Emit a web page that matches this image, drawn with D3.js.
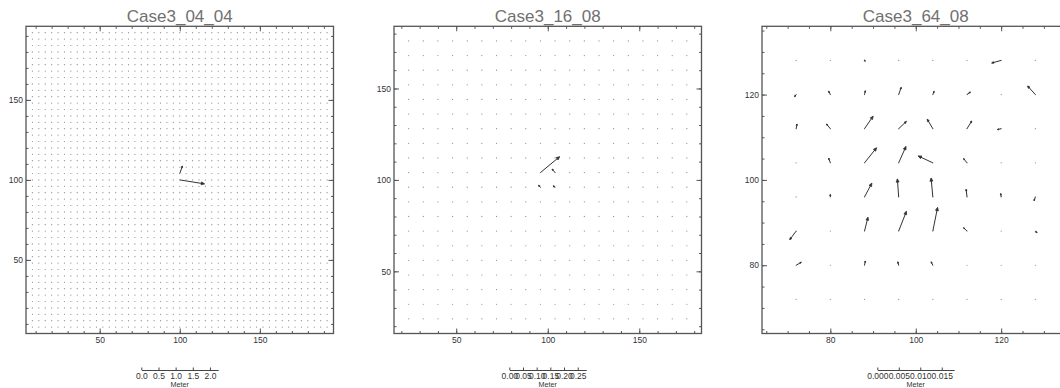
<!DOCTYPE html>
<html>
<head>
<meta charset="utf-8">
<script src="https://cdn.jsdelivr.net/npm/d3@7"></script>
<style>
  body { margin: 0; background: #fff; }
  svg { display: block; font-family: "Liberation Sans", Arial, sans-serif; }
</style>
</head>
<body>
<svg id="chart" width="1060" height="388"></svg>
<script>
// ---- panel titles and axis ranges ----
const titles = ["Case3_04_04", "Case3_16_08", "Case3_64_08"];
const xDomains = [[4, 196], [16, 184], [64, 136]];
const yDomains = [[4, 196], [16, 184], [64, 136]];

// vector grid (first point, last point, spacing) per panel
const gridFirst = [8, 24, 72];
const gridLast = [192, 176, 128];
const gridStep = [4, 8, 8];

// axis ticks
const minorTickStep = [10, 10, 5];
const majorTicks = [[50, 100, 150], [50, 100, 150], [80, 100, 120]];

// velocity scale bars (Meter)
const legendTicks = [
  [0, 0.5, 1.0, 1.5, 2.0],
  [0, 0.05, 0.10, 0.15, 0.20, 0.25],
  [0, 0.005, 0.010, 0.015]
];
const legendMax = [2.24, 0.281, 0.0179];
const legendFormats = [".1f", ".2f", ".3f"];

// Case3_04_04: non-zero vectors (all other grid nodes are still)
const case1X = [100, 100];
const case1Y = [100, 104];
const case1U = [0.72, 0.078];
const case1V = [-0.115, 0.22];

// Case3_16_08: non-zero vectors
const case2X = [96, 104, 96, 104];
const case2Y = [104, 104, 96, 96];
const case2U = [0.070, -0.011, -0.007, -0.007];
const case2V = [0.058, 0.013, 0.007, 0.005];

// Case3_64_08: full field, rows from y=128 (top) down to y=72, columns x=72..128
const case3U = [
  [ 0.0001,  0.0001,  0.0002,  0.0001,  0.0001,  0.0001, -0.0022,  0.0000],
  [-0.0004, -0.0004,  0.0002,  0.0006,  0.0003,  0.0008,  0.0000, -0.0018],
  [ 0.0002, -0.0009,  0.0020,  0.0018, -0.0013,  0.0011, -0.0009,  0.0000],
  [ 0.0001, -0.0004,  0.0028,  0.0017, -0.0034, -0.0008,  0.0000,  0.0000],
  [-0.0002,  0.0000,  0.0017, -0.0003, -0.0004, -0.0002, -0.0001, -0.0003],
  [-0.0015,  0.0002,  0.0008,  0.0018,  0.0011, -0.0008,  0.0000,  0.0004],
  [ 0.0012,  0.0001,  0.0002, -0.0002, -0.0004,  0.0000,  0.0000,  0.0000],
  [ 0.0000,  0.0000,  0.0001,  0.0000,  0.0000,  0.0000,  0.0000,  0.0000]
];
const case3V = [
  [ 0.0000,  0.0000, -0.0002, -0.0001,  0.0000,  0.0000, -0.0006, -0.0001],
  [-0.0005,  0.0008,  0.0009,  0.0017,  0.0008,  0.0006, -0.0001,  0.0020],
  [ 0.0011,  0.0011,  0.0029,  0.0017,  0.0022,  0.0018, -0.0002,  0.0001],
  [ 0.0000,  0.0011,  0.0035,  0.0038,  0.0016,  0.0010,  0.0001,  0.0001],
  [ 0.0001,  0.0006,  0.0032,  0.0042,  0.0044,  0.0018,  0.0008, -0.0009],
  [-0.0020,  0.0001,  0.0032,  0.0046,  0.0055,  0.0008,  0.0000, -0.0004],
  [ 0.0007, -0.0001,  0.0010,  0.0008,  0.0008,  0.0001,  0.0000,  0.0000],
  [ 0.0000,  0.0000, -0.0001,  0.0000,  0.0002,  0.0000,  0.0000,  0.0000]
];

// ---- layout ----
const boxLeft = [26, 394, 762];
const boxTop = 26.3;
const boxW = 307.5;
const boxH = 307.2;
const legendY = 370;

const svg = d3.select("#chart");
const axisColor = "#555";

// build per-panel vector lists from the arrays above
function panelVectors(i) {
  const grid = d3.range(gridFirst[i], gridLast[i] + 0.001, gridStep[i]);
  const list = [];
  if (i === 2) {
    const ys = grid.slice().reverse();
    ys.forEach((gy, r) => grid.forEach((gx, c) => {
      list.push({x: gx, y: gy, u: case3U[r][c], v: case3V[r][c]});
    }));
    return list;
  }
  const X = i === 0 ? case1X : case2X, Y = i === 0 ? case1Y : case2Y;
  const U = i === 0 ? case1U : case2U, V = i === 0 ? case1V : case2V;
  grid.forEach(gy => grid.forEach(gx => {
    let u = 0, v = 0;
    X.forEach((xx, k) => { if (xx === gx && Y[k] === gy) { u = U[k]; v = V[k]; } });
    list.push({x: gx, y: gy, u, v});
  }));
  return list;
}

titles.forEach((title, i) => {
  const x = d3.scaleLinear().domain(xDomains[i]).range([boxLeft[i], boxLeft[i] + boxW]);
  const y = d3.scaleLinear().domain(yDomains[i]).range([boxTop + boxH, boxTop]);
  const cx = boxLeft[i] + boxW / 2;

  // arrow length scale shared with the scale bar
  const legendW = boxW / 4;
  const L = d3.scaleLinear().domain([0, legendMax[i]]).range([0, legendW]);

  const g = svg.append("g");

  // title
  g.append("text")
    .attr("x", cx).attr("y", 22)
    .attr("text-anchor", "middle")
    .attr("font-size", 17)
    .attr("fill", "#707070")
    .text(title);

  // vectors
  const vecs = panelVectors(i);
  const vg = g.append("g");
  vecs.forEach(d => {
    const x0 = x(d.x), y0 = y(d.y);
    const dx = L(d.u), dy = -L(d.v);
    const len = Math.hypot(dx, dy);
    vg.append("circle").attr("cx", x0).attr("cy", y0).attr("r", 0.6).attr("fill", "#8a8a8a");
    if (len < 1.2) return;
    const x1 = x0 + dx, y1 = y0 + dy;
    vg.append("line")
      .attr("x1", x0).attr("y1", y0).attr("x2", x1).attr("y2", y1)
      .attr("stroke", "#333").attr("stroke-width", 1);
    const a = Math.atan2(dy, dx);
    const h = Math.min(3.5, Math.max(1.5, 0.22 * len));
    const t = 25 * Math.PI / 180;
    const p1 = [x1 - h * Math.cos(a - t), y1 - h * Math.sin(a - t)];
    const p2 = [x1 - h * Math.cos(a + t), y1 - h * Math.sin(a + t)];
    vg.append("path")
      .attr("d", `M${p1[0]},${p1[1]}L${x1},${y1}L${p2[0]},${p2[1]}Z`)
      .attr("fill", "#333").attr("stroke", "#333").attr("stroke-width", 0.8);
  });

  // frame
  g.append("rect")
    .attr("x", boxLeft[i]).attr("y", boxTop)
    .attr("width", boxW).attr("height", boxH)
    .attr("fill", "none").attr("stroke", axisColor).attr("stroke-width", 1.3);

  // ticks on all four sides, pointing inward
  const ms = minorTickStep[i];
  const minorX = d3.range(Math.ceil(xDomains[i][0] / ms) * ms, xDomains[i][1] + 0.001, ms)
    .filter(t => t > xDomains[i][0] && t < xDomains[i][1]);
  const minorY = d3.range(Math.ceil(yDomains[i][0] / ms) * ms, yDomains[i][1] + 0.001, ms)
    .filter(t => t > yDomains[i][0] && t < yDomains[i][1]);
  const fmt = d3.format("d");

  const axes = [
    {gen: d3.axisBottom(x), pos: `translate(0,${boxTop + boxH})`, minor: minorX, label: true},
    {gen: d3.axisTop(x), pos: `translate(0,${boxTop})`, minor: minorX, label: false},
    {gen: d3.axisLeft(y), pos: `translate(${boxLeft[i]},0)`, minor: minorY, label: true},
    {gen: d3.axisRight(y), pos: `translate(${boxLeft[i] + boxW},0)`, minor: minorY, label: false}
  ];
  axes.forEach(ax => {
    const gm = g.append("g").attr("transform", ax.pos).attr("color", axisColor)
      .call(ax.gen.tickValues(ax.minor).tickSize(-2.5).tickSizeOuter(0).tickFormat(""));
    gm.select(".domain").remove();
    const gM = g.append("g").attr("transform", ax.pos).attr("color", axisColor)
      .call(ax.gen.tickValues(majorTicks[i]).tickSize(-5).tickSizeOuter(0).tickPadding(3)
        .tickFormat(ax.label ? fmt : ""));
    gM.select(".domain").remove();
    gM.selectAll("text").attr("font-size", 8.5).attr("fill", "#333")
      .attr("font-family", "Liberation Sans, Arial, sans-serif");
    g.selectAll(".tick line").attr("stroke-width", 1);
  });

  // velocity scale bar
  const lx = d3.scaleLinear().domain([0, legendMax[i]]).range([cx - legendW / 2, cx + legendW / 2]);
  const lg = g.append("g").attr("transform", `translate(0,${legendY})`).attr("color", "#444")
    .call(d3.axisBottom(lx).tickValues(legendTicks[i]).tickSize(-2.5).tickSizeOuter(0)
      .tickPadding(3).tickFormat(d3.format(legendFormats[i])));
  lg.selectAll("text").attr("font-size", 8.5).attr("fill", "#333")
    .attr("font-family", "Liberation Sans, Arial, sans-serif");
  g.append("text")
    .attr("x", cx).attr("y", 387)
    .attr("text-anchor", "middle")
    .attr("font-size", 7.2)
    .attr("fill", "#333")
    .text("Meter");
});
</script>
</body>
</html>
